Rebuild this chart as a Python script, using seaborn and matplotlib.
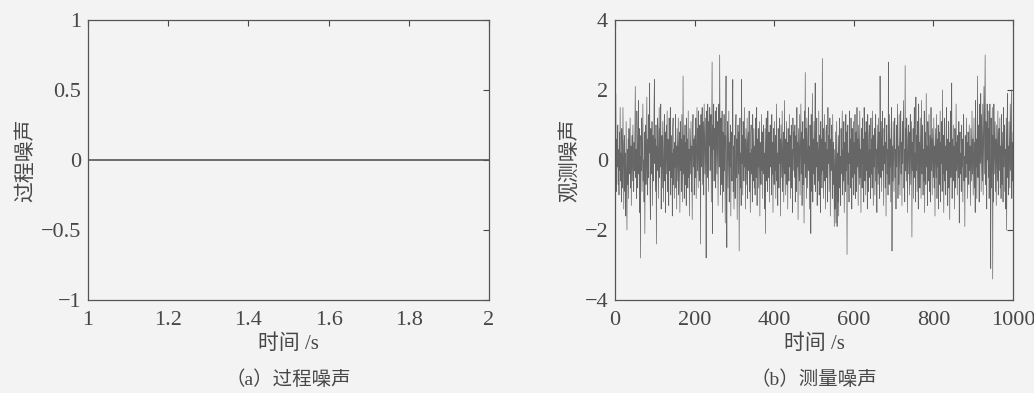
import numpy as np
import pandas as pd
import matplotlib
matplotlib.use("Agg")
import matplotlib.pyplot as plt
import seaborn as sns

# (a) process noise: flat at zero
proc_time = [1.0, 2.0]
proc_noise = [0.0, 0.0]

meas_noise = [
    0.1, 1.9, -0.4, -0.9, 0.6, -0.2, 1.0, -0.7, 0.3, -1.0,
    0.8, -0.3, 1.5, -0.6, 0.2, -1.2, 0.9, 0.4, -0.8, 1.5,
    -0.1, -1.4, 0.5, 0.7, -0.9, 0.2, -1.6, 1.1, -0.5, -2.0,
    0.3, -0.7, 0.6, -1.1, 0.9, 0.0, -0.4, 1.2, -0.8, 0.4,
    -1.3, 0.2, 0.7, -0.6, 1.0, -0.2, -0.9, 0.5, -0.3, 0.8,
    2.1, -0.5, 0.3, -1.1, 1.4, 0.6, -0.8, 0.2, 1.7, -0.4,
    0.9, -1.5, 0.1, -2.8, 0.7, -0.3, 1.2, -0.9, 0.5, 1.6,
    -0.6, 0.0, -1.2, 0.8, -2.1, 0.4, 1.0, -0.7, 0.3, 1.8,
    -0.2, -1.0, 0.6, -0.5, 1.3, 0.2, 2.2, -0.8, -1.7, 0.9,
    0.1, -0.4, 1.1, -1.3, 0.5, 0.7, -0.6, 1.4, 2.3, -0.1,
    0.6, -0.9, 1.0, -2.4, 0.4, -0.3, 1.2, 0.8, -1.1, 0.2,
    1.5, -0.5, 0.9, -0.2, 1.6, -1.4, 0.3, 0.7, -0.8, 1.1,
    0.0, -1.2, 0.5, 1.3, -0.6, 0.8, -1.5, 0.2, 1.0, -0.4,
    1.4, -0.9, 0.6, 0.1, -1.3, 1.2, -0.3, 0.4, 1.5, -1.0,
    0.7, -0.5, 0.2, -1.6, 0.9, 1.2, -0.7, 0.3, -1.1, 0.5,
    -0.2, 1.3, -0.8, 0.4, -1.4, 0.9, 0.1, -0.6, 1.2, -1.0,
    0.3, 0.8, -1.5, 1.1, -0.3, 0.6, -0.9, 1.3, 0.0, -1.2,
    2.4, -0.4, 0.7, -1.1, 0.2, 1.0, -0.7, 0.5, -1.3, 1.2,
    -0.1, 0.6, -0.8, 1.4, -0.5, 0.3, -1.6, 0.9, 0.2, -0.4,
    1.1, -0.9, 0.4, -1.7, 0.8, 1.3, -0.2, 0.6, -1.0, 0.1,
    0.7, -0.5, 1.2, -1.1, 0.4, 1.5, -0.3, 0.9, -0.8, 1.4,
    0.2, -0.6, 1.0, 0.5, -2.4, 1.3, -0.2, 0.8, 1.5, -0.7,
    1.1, 0.3, -1.0, 1.6, 0.6, -0.4, 1.2, 0.0, -2.8, 1.4,
    0.7, -0.5, 1.6, 0.9, -0.9, 1.1, 0.4, 1.5, -0.3, 0.8,
    1.3, -1.2, 0.6, 2.8, -2.1, 1.0, 0.3, 1.6, -0.6, 0.9,
    0.2, 1.4, -0.8, 0.7, 1.5, -0.4, 1.1, 0.5, -1.3, 0.9,
    1.6, -0.2, 3.0, 0.4, -1.0, 1.2, 0.6, -0.7, 1.4, -1.5,
    0.8, 0.1, -0.9, 1.3, -0.3, 0.7, -1.8, 1.0, 2.4, -0.5,
    -2.5, 0.6, 1.1, -0.8, 0.3, 1.4, -1.2, 0.5, -0.2, 1.0,
    -1.6, 0.8, 0.2, -0.6, 1.2, 2.3, -0.9, 0.4, -1.4, 0.7,
    0.1, -1.1, 0.9, 1.3, -0.5, 0.6, -1.7, 0.3, 1.0, -0.4,
    0.8, -2.6, 0.5, 1.2, -0.8, 0.2, -1.3, 2.3, -0.1, 0.7,
    -1.0, 1.1, 0.4, -0.6, 1.5, -0.2, 0.6, -1.4, 0.9, 0.0,
    -0.7, 1.2, -1.1, 0.5, 0.8, -0.3, 1.4, -0.9, 0.2, -1.5,
    0.7, 1.0, -0.4, 0.3, -1.2, 1.3, 0.1, -0.6, 0.9, -0.8,
    0.4, -1.0, 1.2, 0.2, -0.5, 1.5, -1.3, 0.6, -0.2, 0.9,
    -0.8, 0.3, 1.1, -1.6, 0.5, 0.0, -0.7, 1.3, -0.3, 0.8,
    -1.1, 0.6, 1.0, -0.4, 0.2, -1.4, 0.9, -2.1, 0.4, 1.2,
    -0.6, 0.7, -0.9, 1.4, 0.1, -0.5, 0.8, -1.2, 0.3, 1.0,
    -0.2, 0.6, -1.0, 1.3, -0.4, 0.5, -1.5, 0.9, 0.2, -0.7,
    1.1, -0.3, 0.7, -1.1, 0.4, 1.6, -0.6, 0.2, -1.3, 0.9,
    0.5, -0.8, 1.2, -0.1, 0.6, -1.6, 1.0, 0.3, -0.5, 1.4,
    -0.9, 0.1, 0.8, -1.2, 0.4, 1.7, -0.4, 0.6, -1.0, 0.2,
    1.1, -0.7, 0.5, -1.4, 0.9, 0.0, -0.6, 1.3, -0.2, 0.7,
    -1.1, 0.4, 1.0, -0.8, 0.3, -1.5, 1.2, 0.6, -0.3, 0.8,
    -0.5, 1.0, -1.2, 0.3, 0.7, -0.9, 1.5, -0.2, 0.5, -1.7,
    0.9, 0.1, -0.6, 1.3, -1.0, 0.4, 1.6, -0.4, 0.8, -1.3,
    0.2, 1.1, -0.7, 0.6, -1.8, 1.4, -0.1, 2.5, -0.5, 0.9,
    -1.1, 1.2, 0.3, -0.8, 0.7, 1.5, -0.3, 0.4, -1.4, 1.0,
    0.2, -2.1, 1.3, -0.9, 0.5, 1.9, -1.2, 0.6, -0.4, 1.1,
    -0.7, 0.4, 2.2, -0.9, 0.8, -0.2, 1.2, -1.3, 0.5, 0.1,
    -0.6, 1.4, -1.0, 0.7, 0.3, -1.5, 1.1, -0.4, 0.6, -0.8,
    2.9, -0.3, 0.9, -1.1, 0.2, 1.3, -0.6, 0.5, -1.4, 0.8,
    1.0, -0.5, 0.3, -1.2, 1.5, -0.1, 0.7, -0.9, 0.4, 1.2,
    -1.6, 0.6, -0.3, 1.0, 0.2, -1.1, 1.3, -0.7, 0.5, -0.2,
    -1.9, 0.3, -1.4, 0.8, -1.8, -0.5, 1.1, -1.9, 0.2, -1.2,
    0.7, -1.6, 0.4, 1.2, -0.8, 0.1, -1.3, 0.9, -0.4, 0.6,
    1.4, -1.0, 0.3, -0.6, 1.1, -1.5, 0.5, 0.0, -0.9, 1.3,
    -0.3, 0.8, -2.7, 0.4, 1.0, -0.7, 0.2, -1.2, 1.4, -0.1,
    0.6, -0.8, 1.2, 0.3, -1.4, 0.9, -0.5, 0.4, 1.1, -1.0,
    0.5, -0.4, 1.3, -1.1, 0.2, 0.8, -0.9, 1.5, -0.2, 0.6,
    -1.3, 1.0, 0.1, -0.7, 1.4, -0.5, 0.3, -1.5, 0.9, 0.4,
    -0.8, 1.2, -0.1, 0.6, -1.2, 1.5, 0.2, -0.6, 0.8, -1.0,
    1.1, -0.3, 0.5, -1.4, 1.3, 0.0, -0.9, 0.7, 1.0, -0.5,
    0.3, -1.1, 1.2, -0.4, 0.6, -0.8, 1.4, 0.2, -1.3, 0.7,
    -0.2, 0.9, -1.0, 0.5, 1.3, -0.6, 0.3, -1.5, 1.0, 0.1,
    -0.7, 1.2, -0.4, 0.8, -1.1, 2.4, 0.2, -0.5, 1.1, -0.9,
    0.6, 1.4, -0.3, 0.4, -1.3, 0.9, -0.1, 1.2, -0.8, 0.5,
    -1.6, 0.7, 1.0, -0.4, 0.3, -1.0, 2.8, 0.1, -0.7, 1.3,
    -0.2, 0.6, -1.2, 0.9, 1.5, -2.6, 0.4, -0.6, 1.1, 0.2,
    -0.9, 0.7, 1.2, -0.5, 0.3, -1.4, 1.0, -0.2, 0.6, 1.6,
    -1.1, 0.4, -0.7, 1.3, 0.0, -1.0, 0.8, 1.4, -0.4, 0.5,
    -1.3, 1.1, -0.1, 0.7, 1.7, -0.8, 0.3, -1.2, 2.7, -0.3,
    0.9, -0.6, 1.2, 0.2, -1.5, 0.6, 1.0, -0.4, 0.8, -1.0,
    0.4, 1.3, -0.7, 0.1, 1.1, -2.2, 0.5, -0.3, 0.9, -1.1,
    0.6, 1.5, -0.5, 0.2, -1.2, 1.8, -0.3, 0.7, -0.9, 1.1,
    0.3, -1.4, 1.6, -0.2, 0.5, -0.8, 1.2, 0.0, -1.1, 1.7,
    -0.4, 0.6, 1.0, -1.0, 0.3, -0.6, 1.4, -1.5, 0.8, 0.2,
    -0.7, 1.9, -0.2, 0.4, -1.3, 1.1, 0.5, -0.6, 1.3, -0.9,
    0.1, 0.7, -1.2, 1.5, -0.3, 0.6, -1.0, 0.9, 0.2, -0.5,
    1.2, -0.8, 0.4, -1.6, 0.9, 0.1, -0.5, 1.3, -1.1, 0.6,
    -0.2, 1.0, -1.4, 0.3, 0.8, -0.7, 1.4, -1.2, 0.5, -0.1,
    1.1, -0.9, 2.0, -0.4, 0.7, -1.5, 0.2, 1.2, -0.6, 0.4,
    -1.0, 0.9, 1.5, -0.3, 0.6, -1.3, 0.1, 1.1, -0.8, 0.5,
    -1.7, 0.8, 1.4, -0.5, 0.3, 2.2, -1.1, 0.6, -0.2, 1.0,
    -0.6, 0.4, -1.4, 0.9, 0.2, -0.8, 1.6, -0.3, 0.5, -1.0,
    0.7, 0.0, -0.5, 1.1, -1.8, 0.3, 0.8, -0.4, 0.2, -0.9,
    1.0, -0.2, 0.6, -1.2, 0.4, 1.3, -0.6, 0.1, -1.9, 0.7,
    0.3, -0.5, 1.2, -0.1, 0.5, -1.1, 0.8, 0.2, -0.7, 1.0,
    -0.3, 0.4, -1.3, 0.9, 0.1, -0.6, 1.4, -0.4, 0.6, -1.0,
    0.2, 1.2, -0.8, 0.5, -1.5, 1.7, -0.2, 0.6, -1.1, 0.9,
    2.4, -0.5, 1.0, 0.3, -1.2, 1.6, -0.1, 0.7, 1.9, -0.9,
    1.3, 0.2, -0.6, 1.6, -1.0, 0.8, 2.1, -0.4, 1.5, 3.0,
    -0.7, 1.1, 0.4, -1.4, 1.6, 0.0, 0.9, -0.5, 1.4, -1.1,
    0.6, 1.6, -0.3, -3.1, 1.2, -0.8, 0.5, 1.5, -3.4, 0.7,
    -1.2, 1.6, -0.4, 0.3, 1.1, -0.9, 0.6, -1.3, 1.0, 0.2,
    -0.6, 1.4, -1.0, 0.5, 0.9, -0.3, 1.2, -0.8, 0.4, -1.1,
    1.3, 0.1, -0.7, 0.8, -1.2, 1.5, -0.2, 0.6, 1.0, -0.9,
    0.3, -1.4, 1.2, -2.0, 0.7, 1.9, -0.5, 0.4, -1.0, 1.1,
    0.2, -0.8, 1.6, -0.3, 0.9, 2.0, -1.1, 0.5, -0.6, 0.8,
]
meas_time = np.arange(1, len(meas_noise) + 1)

proc_xticks = [1, 1.2, 1.4, 1.6, 1.8, 2]
proc_yticks = [-1, -0.5, 0, 0.5, 1]
meas_xticks = [0, 200, 400, 600, 800, 1000]
meas_yticks = [-4, -2, 0, 2, 4]

sns.set_style("white")
bg = "#f3f3f3"
ink = "#474747"
fonts = ["Liberation Serif", "Noto Sans CJK SC", "DejaVu Sans"]
plt.rcParams["font.family"] = fonts
plt.rcParams["xtick.direction"] = "in"
plt.rcParams["ytick.direction"] = "in"

fig = plt.figure(figsize=(10.34, 3.93), dpi=100, facecolor=bg)
ax1 = fig.add_axes([88 / 1034, 1 - 300 / 393, 401 / 1034, 280 / 393])
ax2 = fig.add_axes([615 / 1034, 1 - 300 / 393, 398 / 1034, 280 / 393])

df_a = pd.DataFrame({"t": proc_time, "w": proc_noise})
df_b = pd.DataFrame({"t": meas_time, "v": meas_noise})
sns.lineplot(data=df_a, x="t", y="w", ax=ax1, color="#555555", linewidth=1.2)
sns.lineplot(data=df_b, x="t", y="v", ax=ax2, color="#666666", linewidth=0.5)

setups = [
    (ax1, proc_xticks, proc_yticks, (1, 2), (-1, 1), "过程噪声", "（a）过程噪声"),
    (ax2, meas_xticks, meas_yticks, (0, 1000), (-4, 4), "观测噪声", "（b）测量噪声"),
]
for ax, xt, yt, xl, yl, ylab, cap in setups:
    ax.set_facecolor(bg)
    ax.set_xlim(*xl)
    ax.set_ylim(*yl)
    ax.set_xticks(xt)
    ax.set_yticks(yt)
    ax.set_xticklabels([f"{v:g}".replace("-", "\u2212") for v in xt])
    ax.set_yticklabels([f"{v:g}".replace("-", "\u2212") for v in yt])
    ax.tick_params(axis="both", which="both", labelsize=16, colors=ink,
                   length=4, width=0.8, top=True, right=True, pad=5)
    ax.tick_params(axis="x", pad=8)
    for s in ax.spines.values():
        s.set_color("#555555")
        s.set_linewidth(0.9)
    ax.set_xlabel("时间 /s", fontsize=15, color=ink, labelpad=3)
    ax.set_ylabel(ylab, fontsize=15, color=ink, labelpad=3)
    ax.text(0.5, -0.285, cap, transform=ax.transAxes, ha="center", va="center",
            fontsize=14, color=ink)

fig.savefig("out.png", dpi=100, facecolor=bg)
